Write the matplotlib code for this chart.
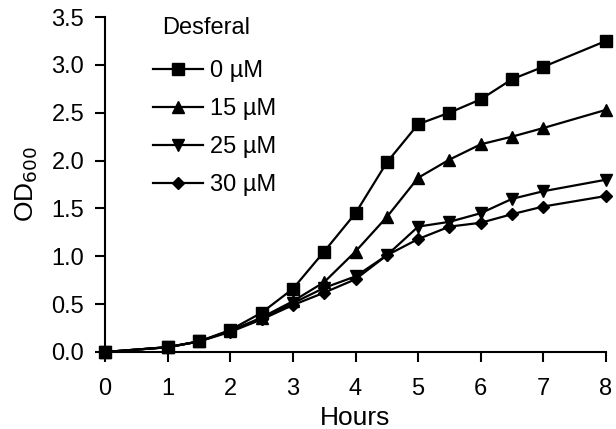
import matplotlib.pyplot as plt
import matplotlib

matplotlib.rcParams.update({"font.size": 17, "font.family": ["Liberation Sans", "DejaVu Sans"]})

hours = [0, 1, 1.5, 2, 2.5, 3, 3.5, 4, 4.5, 5, 5.5, 6, 6.5, 7, 8]
od_0 = [0.0, 0.05, 0.11, 0.23, 0.41, 0.66, 1.05, 1.45, 1.98, 2.38, 2.50, 2.64, 2.85, 2.98, 3.25]
od_15 = [0.0, 0.05, 0.11, 0.22, 0.36, 0.53, 0.73, 1.05, 1.41, 1.82, 2.01, 2.17, 2.25, 2.34, 2.53]
od_25 = [0.0, 0.05, 0.11, 0.22, 0.35, 0.51, 0.67, 0.79, 1.01, 1.31, 1.36, 1.45, 1.60, 1.68, 1.80]
od_30 = [0.0, 0.05, 0.11, 0.21, 0.34, 0.49, 0.62, 0.76, 1.01, 1.18, 1.31, 1.35, 1.44, 1.52, 1.63]

series = [("0 µM", od_0, "s", 8.5), ("15 µM", od_15, "^", 8), ("25 µM", od_25, "v", 8), ("30 µM", od_30, "D", 6.5)]

fig = plt.figure(figsize=(6.16, 4.29), dpi=100)
ax = fig.add_axes([105 / 616, 1 - 352 / 429, 501 / 616, 335 / 429])

for label, vals, mk, ms in series:
    ax.plot(hours, vals, color="black", marker=mk, markersize=ms, lw=1.6, label=label, clip_on=False, zorder=3)

ax.set_xlim(0, 8)
ax.set_ylim(0, 3.5)
ax.set_xticks(range(0, 9))
ax.set_yticks([0, 0.5, 1.0, 1.5, 2.0, 2.5, 3.0, 3.5])
ax.set_yticklabels(["0.0", "0.5", "1.0", "1.5", "2.0", "2.5", "3.0", "3.5"])
for s in ["top", "right"]:
    ax.spines[s].set_visible(False)
for s in ["left", "bottom"]:
    ax.spines[s].set_linewidth(1.5)
ax.tick_params(direction="out", length=7, width=1.5, pad=8)
ax.tick_params(axis="x", pad=12)

ax.set_xlabel("Hours", fontsize=19, labelpad=4)
ax.set_ylabel(r"OD$_{600}$", fontsize=19, labelpad=8)

ax.text(57 / 501, 324 / 335, "Desferal", transform=ax.transAxes, fontsize=17, ha="left", va="center")
leg = ax.legend(frameon=False, loc="upper left", bbox_to_anchor=(0.077, 0.90),
                handlelength=2.1, labelspacing=0.68, handletextpad=0.3, fontsize=17, borderaxespad=0)

plt.savefig("out.png", dpi=100)
plt.close()
